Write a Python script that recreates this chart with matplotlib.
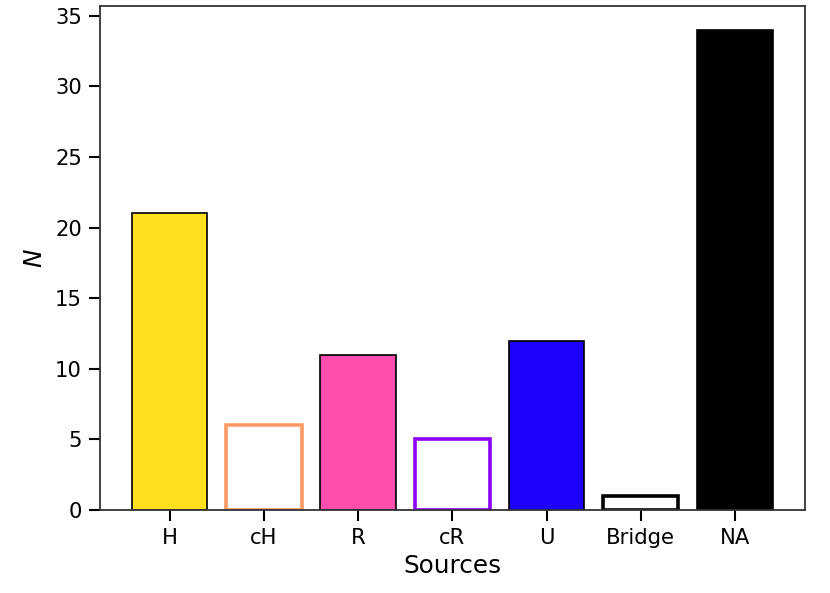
import numpy as np
import matplotlib
matplotlib.use("Agg")
import matplotlib.pyplot as plt

# -----------------------------
# Data
# -----------------------------

sources = ["H", "cH", "R", "cR", "U", "Bridge", "NA"]
counts = [21, 6, 11, 5, 12, 1, 34]
colors = ["#ffe01f", "#ff9966", "#ff4fae", "#8c00ff", "#1e00ff", "#000000", "#000000"]
filled = [True, False, True, False, True, False, True]

# -----------------------------
# Plot
# -----------------------------

fig = plt.figure(figsize=(8.3, 5.93), dpi=100)
ax = fig.add_axes([0.1205, 0.14, 0.849, 0.85])

x = np.arange(len(sources))

for i in range(len(sources)):
    if filled[i]:
        ax.bar(x[i], counts[i], width=0.8, color=colors[i],
               edgecolor="black", linewidth=1.2)
    else:
        ax.bar(x[i], counts[i], width=0.8, color="white",
               edgecolor=colors[i], linewidth=2.6)

ax.set_xticks(x)
ax.set_xticklabels(sources)

ax.set_xlabel("Sources", fontsize=17.8, labelpad=4)
ax.set_ylabel("$N$", fontsize=17.8, labelpad=6)

ax.tick_params(axis="both", labelsize=15.2, length=8, width=1.5,
               pad=5, colors="black")

for spine in ax.spines.values():
    spine.set_linewidth(1.3)
    spine.set_color("#333333")

fig.savefig("out.png", dpi=100)
